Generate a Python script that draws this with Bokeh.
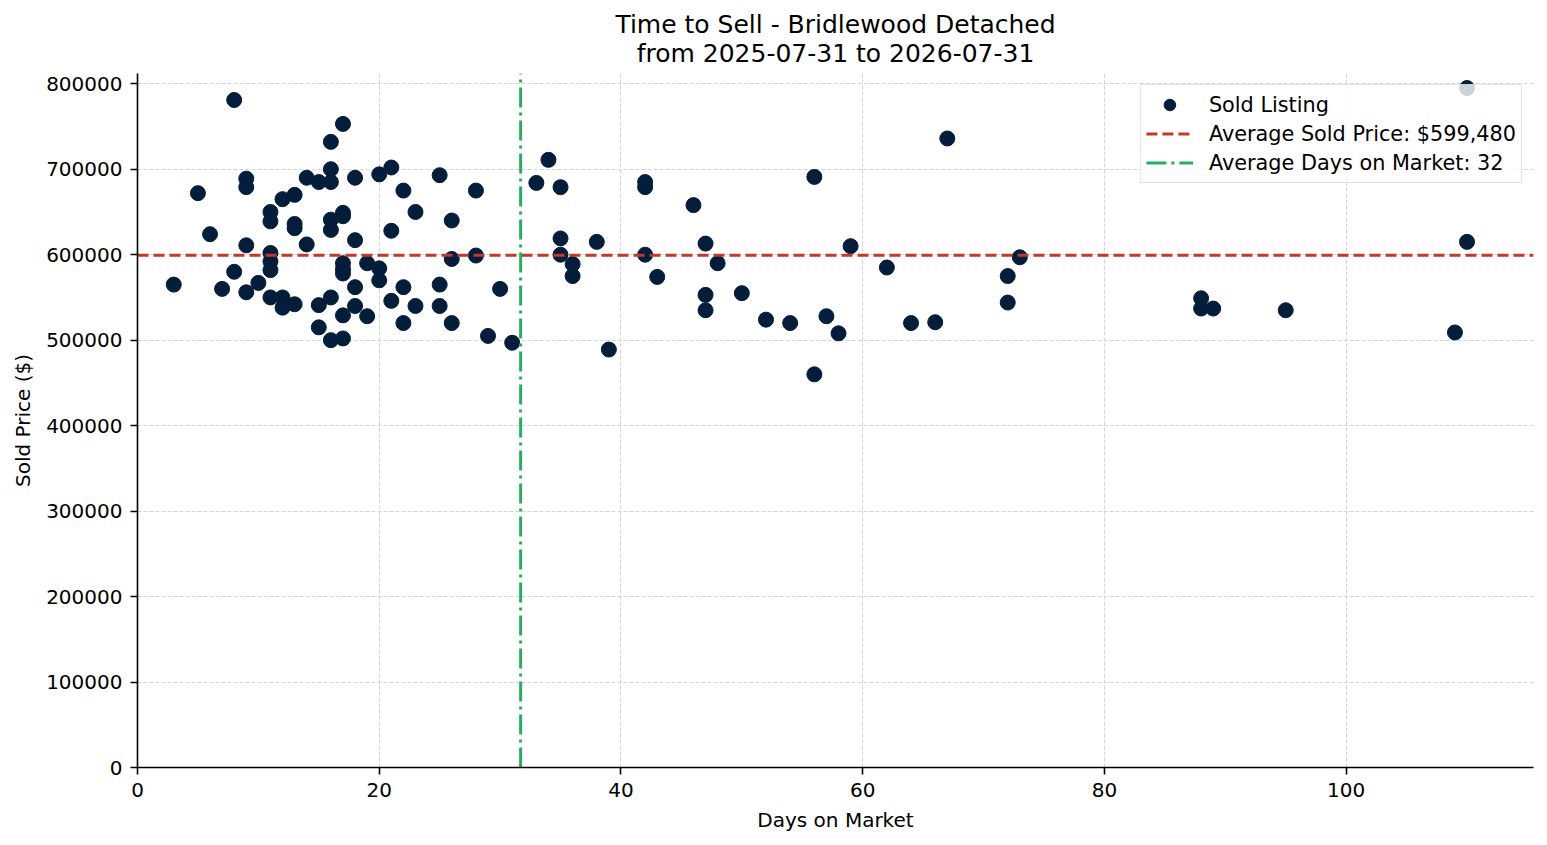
from bokeh.plotting import figure
from bokeh.models import (ColumnDataSource, Legend, LegendItem, Title,
                          BasicTickFormatter, SingleIntervalTicker, Range1d)
from bokeh.embed import file_html
from bokeh.resources import INLINE

# sold listings: days on market and sold price
days = [3, 5, 6, 7, 8, 8, 9, 9, 9, 9, 10,
        11, 11, 11, 11, 11, 11, 12, 12, 12, 13, 13, 13, 13,
        14, 14, 15, 15, 15, 16, 16, 16, 16, 16, 16, 16,
        17, 17, 17, 17, 17, 17, 17, 17, 18, 18, 18, 18,
        19, 19, 20, 20, 20, 21, 21, 21, 22, 22, 22, 23, 23,
        25, 25, 25, 26, 26, 26, 28, 28, 29, 30, 31,
        33, 34, 35, 35, 35, 36, 36, 38, 39, 42, 42, 42, 43,
        46, 47, 47, 47, 48, 50, 52, 54, 56, 56, 57, 58, 59,
        62, 64, 66, 67, 72, 72, 73, 88, 88, 89, 95, 109, 110, 110]
prices = [565000, 672000, 624000, 560000, 781000, 580000, 689000, 679000, 611000, 556000, 567000,
          650000, 639000, 602000, 592000, 582000, 550000, 665000, 550000, 538000, 670000, 636000, 631000, 542000,
          690000, 612000, 685000, 541000, 515000, 732000, 700000, 685000, 641000, 629000, 550000, 500000,
          753000, 649000, 645000, 590000, 583000, 578000, 529000, 502000, 690000, 617000, 562000, 540000,
          590000, 528000, 694000, 584000, 570000, 702000, 628000, 546000, 675000, 562000, 520000, 650000, 540000,
          693000, 565000, 540000, 640000, 595000, 520000, 675000, 599000, 505000, 560000, 497000,
          684000, 711000, 679000, 619000, 600000, 589000, 575000, 615000, 489000, 685000, 679000, 600000, 574000,
          658000, 613000, 553000, 535000, 590000, 555000, 524000, 520000, 691000, 460000, 528000, 508000, 610000,
          585000, 520000, 521000, 736000, 575000, 544000, 597000, 549000, 537000, 537000, 535000, 509000, 795000, 615000]

avg_price = 599480
avg_days = 31.7

title_lines = ["Time to Sell - Bridlewood Detached", "from 2025-07-31 to 2026-07-31"]

# axis limits and tick steps
x_min, x_max = 0, 115.5
y_min, y_max = 0, 812000
x_ticks_every = 20
y_ticks_every = 100000

NAVY = "#031d3b"
RED = "#c0392b"
GREEN = "#27ae60"
FONT = "DejaVu Sans"

source = ColumnDataSource(data=dict(days=days, price=prices))

p = figure(
    width=1540,
    height=838,
    x_range=Range1d(x_min, x_max),
    y_range=Range1d(y_min, y_max),
    title=None,
    output_backend="svg",
    toolbar_location=None,
    min_border_left=137,
    min_border_right=7,
    min_border_top=73,
    min_border_bottom=71,
    background_fill_color="white",
)
p.outline_line_color = None

# second line sits next to the plot, first line above it
for line, standoff in ((title_lines[1], 11), (title_lines[0], -14)):
    p.add_layout(Title(text=line, align="center", text_font=FONT,
                       text_font_size="25px", text_font_style="normal",
                       text_color="black", standoff=standoff), "above")

# grid
for g in (p.xgrid, p.ygrid):
    g.grid_line_color = "#d4d4d4"
    g.grid_line_dash = "4 2"
    g.grid_line_width = 1

# axes
p.xaxis.ticker = SingleIntervalTicker(interval=x_ticks_every, num_minor_ticks=0)
p.yaxis.ticker = SingleIntervalTicker(interval=y_ticks_every, num_minor_ticks=0)
p.yaxis.formatter = BasicTickFormatter(use_scientific=False)
p.xaxis.axis_label = "Days on Market"
p.yaxis.axis_label = "Sold Price ($)"
for ax in (p.xaxis, p.yaxis):
    ax.axis_line_color = "black"
    ax.axis_line_width = 1.6
    ax.major_tick_line_color = "black"
    ax.major_tick_line_width = 1.6
    ax.major_tick_out = 7
    ax.major_tick_in = 0
    ax.minor_tick_line_color = None
    ax.major_label_standoff = 8
    ax.major_label_text_font = FONT
    ax.major_label_text_font_size = "20px"
    ax.major_label_text_color = "black"
    ax.axis_label_text_font = FONT
    ax.axis_label_text_font_size = "20px"
    ax.axis_label_text_font_style = "normal"
    ax.axis_label_text_color = "black"
    ax.axis_label_standoff = 8

pts = p.scatter("days", "price", source=source, size=15, color=NAVY)

# reference lines across the whole plot area
red_line = p.line([x_min, x_max], [avg_price, avg_price], line_color=RED,
                  line_width=3, line_dash="11 5")
green_line = p.line([avg_days, avg_days], [y_min, y_max], line_color=GREEN,
                    line_width=3, line_dash="20 5 3 5")

legend = Legend(items=[
    LegendItem(label="Sold Listing", renderers=[pts]),
    LegendItem(label=f"Average Sold Price: ${avg_price:,}", renderers=[red_line]),
    LegendItem(label=f"Average Days on Market: {round(avg_days)}", renderers=[green_line]),
], location="top_right")
legend.margin = 11
legend.padding = 5
legend.spacing = 0
legend.glyph_width = 47
legend.glyph_height = 29
legend.label_height = 29
legend.label_standoff = 16
legend.label_text_font = FONT
legend.label_text_font_size = "20.8px"
legend.label_text_color = "black"
legend.border_line_color = "#cccccc"
legend.border_line_width = 1.5
legend.background_fill_color = "white"
legend.background_fill_alpha = 0.8
p.add_layout(legend, "center")

open("out.html", "w").write(file_html(p, INLINE))
